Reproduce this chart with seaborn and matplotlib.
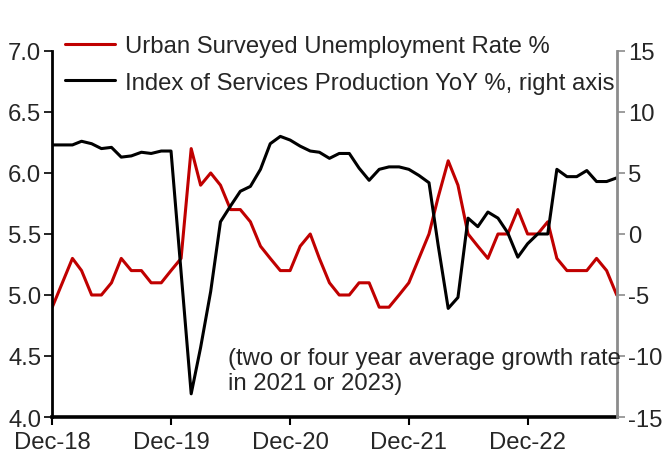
import numpy as np
import pandas as pd
import matplotlib
matplotlib.use("Agg")
import matplotlib.pyplot as plt
import matplotlib.dates as mdates
import seaborn as sns

# ---- data (monthly, Dec-2018 .. Sep-2023) ----
months = pd.date_range("2018-12-01", periods=58, freq="MS")

unemployment = [
    4.9,                                                        # Dec-18
    5.1, 5.3, 5.2, 5.0, 5.0, 5.1, 5.3, 5.2, 5.2, 5.1, 5.1, 5.2,  # 2019
    5.3, 6.2, 5.9, 6.0, 5.9, 5.7, 5.7, 5.6, 5.4, 5.3, 5.2, 5.2,  # 2020
    5.4, 5.5, 5.3, 5.1, 5.0, 5.0, 5.1, 5.1, 4.9, 4.9, 5.0, 5.1,  # 2021
    5.3, 5.5, 5.8, 6.1, 5.9, 5.5, 5.4, 5.3, 5.5, 5.5, 5.7, 5.5,  # 2022
    5.5, 5.6, 5.3, 5.2, 5.2, 5.2, 5.3, 5.2, 5.0,                 # 2023
]

services = [
    7.3,                                                               # Dec-18
    7.3, 7.3, 7.6, 7.4, 7.0, 7.1, 6.3, 6.4, 6.7, 6.6, 6.8, 6.8,         # 2019
    None, -13.1, -9.3, -4.7, 1.0, 2.3, 3.5, 3.9, 5.3, 7.4, 8.0, 7.7,    # 2020
    7.2, 6.8, 6.7, 6.2, 6.6, 6.6, 5.4, 4.4, 5.3, 5.5, 5.5, 5.3,         # 2021
    4.8, 4.2, -0.9, -6.1, -5.2, 1.3, 0.6, 1.8, 1.3, 0.1, -1.9, -0.8,    # 2022
    0.0, 0.0, 5.3, 4.7, 4.7, 5.2, 4.3, 4.3, 4.6,                        # 2023
]

left_ticks = [4.0, 4.5, 5.0, 5.5, 6.0, 6.5, 7.0]
right_ticks = [-15, -10, -5, 0, 5, 10, 15]
tick_years = [2018, 2019, 2020, 2021, 2022]

label_u = "Urban Surveyed Unemployment Rate %"
label_s = "Index of Services Production YoY %, right axis"
note = "(two or four year average growth rate\nin 2021 or 2023)"

df_u = pd.DataFrame({"month": months, "value": unemployment})
df_s = pd.DataFrame({"month": months, "value": services}).dropna()

# ---- style ----
sns.set_style("white")
plt.rcParams["font.family"] = ["Liberation Sans", "DejaVu Sans"]
FS = 17.2
RED = "#C00000"
GREY = "#8c8c8c"

fig = plt.figure(figsize=(6.65, 4.6), dpi=100)
ax = fig.add_axes([0.0786, 0.0913, 0.9274 - 0.0786, 0.887 - 0.0913])
ax2 = ax.twinx()

sns.lineplot(data=df_u, x="month", y="value", ax=ax, color=RED, linewidth=2.2,
             label=label_u, legend=False)
sns.lineplot(data=df_s, x="month", y="value", ax=ax2, color="black", linewidth=2.2,
             label=label_s, legend=False)

ax.set_xlim(months[0], months[-1])
ax.set_ylim(4.0, 7.0)
ax2.set_ylim(-15, 15)
ax.set_xlabel("")
ax.set_ylabel("")
ax2.set_xlabel("")
ax2.set_ylabel("")

ax.set_yticks(left_ticks)
ax.set_yticklabels([f"{v:.1f}" for v in left_ticks])
ax2.set_yticks(right_ticks)
ax2.set_yticklabels([str(v) for v in right_ticks])

xt = [pd.Timestamp(f"{y}-12-01") for y in tick_years]
ax.set_xticks(xt)
ax.set_xticklabels([t.strftime("%b-%y") for t in xt])

for a in (ax, ax2):
    a.spines["top"].set_visible(False)
    a.grid(False)

ax.spines["left"].set_color("black")
ax.spines["left"].set_linewidth(2.0)
ax.spines["bottom"].set_color("black")
ax.spines["bottom"].set_linewidth(2.6)
ax.spines["right"].set_visible(False)
ax2.spines["left"].set_visible(False)
ax2.spines["bottom"].set_visible(False)
ax2.spines["right"].set_color(GREY)
ax2.spines["right"].set_linewidth(2.0)

ax.tick_params(axis="y", which="both", direction="out", length=6, width=1.2,
               color="black", labelsize=FS, pad=2, left=True)
ax.tick_params(axis="x", which="both", direction="out", length=6, width=1.5,
               color="black", labelsize=FS, pad=4, bottom=True)
ax2.tick_params(axis="y", which="both", direction="out", length=6, width=1.2,
                color=GREY, labelsize=FS, pad=2, right=True)
ax.minorticks_off()

handles = ax.get_lines()[:1] + ax2.get_lines()[:1]
fig.legend(handles, [label_u, label_s], loc="upper left",
           bbox_to_anchor=(0.098, 0.922), frameon=False, fontsize=FS,
           borderpad=0, handlelength=2.1, handletextpad=0.42, labelspacing=0.62,
           borderaxespad=0)

fig.text(228 / 665, 1 - 348 / 460, note, fontsize=FS, va="top", ha="left",
         linespacing=1.2)

fig.savefig("out.png", dpi=100)
